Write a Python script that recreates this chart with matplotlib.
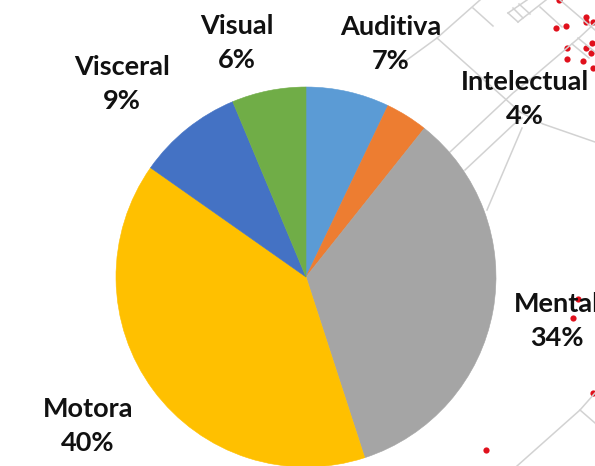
import matplotlib
matplotlib.use('Agg')
import matplotlib.pyplot as plt

labels = ['Auditiva', 'Intelectual', 'Mental', 'Motora', 'Visceral', 'Visual']
values = [7.1, 3.6, 34.3, 39.75, 8.95, 6.3]
colors = ['#5B9BD5', '#ED7D31', '#A5A5A5', '#FFC000', '#4472C4', '#70AD47']
# label centres, in pixels of the picture
label_x = [391, 525, 557, 88, 122, 237]
label_y = [44, 99, 321, 426, 84, 43]

# background map behind the chart, in picture pixels
map_lines = [
    [(400, 65), (437, 38), (480, 0)],
    [(437, 38), (520, 112), (543, 124), (595, 142)],
    [(473, 8), (493, 26)],
    [(450, 152), (513, 93), (533, 77), (580, 37), (595, 23)],
    [(465, 170), (513, 125), (522, 118)],
    [(522, 128), (487, 210)],
    [(508, 13), (527, 0)],
    [(518, 22), (546, 0)],
    [(508, 13), (518, 22)],
    [(513, 8), (523, 18)],
    [(519, 4), (530, 14)],
    [(540, 7), (562, 27)],
    [(560, 0), (595, 30)],
    [(578, 38), (595, 52)],
    [(572, 44), (589, 58)],
    [(517, 466), (580, 410), (595, 393)],
    [(580, 410), (595, 423)],
]
dots_x = [556, 566, 586, 586, 593, 567, 567, 586, 591, 583, 593, 592, 559, 578, 573, 593, 486]
dots_y = [28, 26, 17, 22, 22, 48, 59, 48, 53, 61, 68, 43, 0, 299, 318, 393, 450]

fig = plt.figure(figsize=(5.95, 4.66), dpi=100)
bg = fig.add_axes([0, 0, 1, 1])
bg.set_xlim(0, 595)
bg.set_ylim(466, 0)
bg.axis('off')
for line in map_lines:
    xs, ys = zip(*line)
    bg.plot(xs, ys, color='#d2d2d2', lw=1.1)
bg.scatter(dots_x, dots_y, s=20, color='#e0101c', lw=0)

# pie is centred on (306, 277) with radius 190 px
ax = fig.add_axes([(306 - 190) / 595, (466 - 277 - 190) / 466, 380 / 595, 380 / 466])
wedges, _ = ax.pie(values, colors=colors, startangle=90, counterclock=False, radius=1)
for w in wedges:
    w.set_edgecolor(w.get_facecolor())
    w.set_linewidth(0.4)
ax.set_xlim(-1, 1)
ax.set_ylim(-1, 1)

for name, val, x, y in zip(labels, values, label_x, label_y):
    fig.text(x / 595, 1 - y / 466, f'{name}\n{val:.0f}%', ha='center', va='center', fontsize=19.5,
             fontweight='bold', family='Lato', color='#111111', linespacing=1.5,
             zorder=5)

fig.savefig('out.png', dpi=100)
